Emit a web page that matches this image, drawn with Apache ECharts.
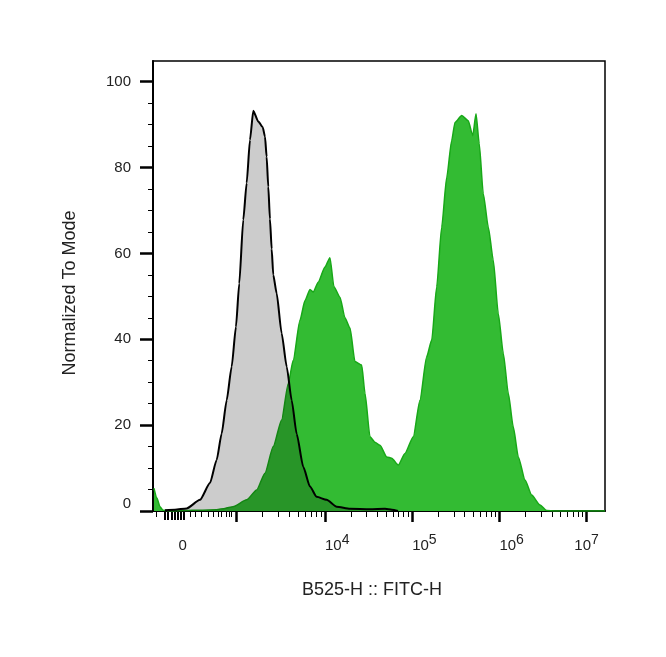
<!DOCTYPE html>
<html>
<head>
<meta charset="utf-8">
<script src="https://cdn.jsdelivr.net/npm/echarts@6/dist/echarts.min.js"></script>
<style>
  html, body { margin: 0; padding: 0; background: #fff; }
  #chart { width: 666px; height: 657px; }
</style>
</head>
<body>
<div id="chart"></div>
<script>
// x values are display positions on the biex/log axis (1 unit = 1 decade, 4 = 10^4)
const grayX = [2.165, 2.280, 2.414, 2.567, 2.681, 2.758, 2.815, 2.873, 2.930, 2.979, 3.017, 3.063, 3.102, 3.140, 3.178, 3.235, 3.286, 3.312, 3.331, 3.350, 3.369, 3.389, 3.407, 3.446, 3.503, 3.561, 3.618, 3.675, 3.751, 3.828, 3.905, 4.019, 4.134, 4.287, 4.516, 4.688, 4.768, 4.837];
const grayY = [0.2, 0.3, 0.6, 2.6, 6.5, 11.9, 18, 25.8, 33.6, 42.9, 53, 67.8, 76.4, 86.4, 93.2, 90.7, 89.4, 87.2, 82.5, 75.5, 68, 61, 55, 50.7, 41.4, 33.6, 25.8, 18, 10.3, 5.7, 3.3, 2.6, 1.0, 0.5, 0.4, 0.5, 0.3, 0];

const greenX = [2.039, 2.073, 2.108, 2.142, 2.222, 2.394, 2.567, 2.758, 2.853, 2.945,
  3.102, 3.217, 3.312, 3.407, 3.503, 3.579, 3.636, 3.713, 3.771, 3.828,
  3.866, 3.923, 4.000, 4.057, 4.103, 4.172, 4.229, 4.287, 4.344, 4.421,
  4.459, 4.516, 4.573, 4.631, 4.708, 4.765, 4.841, 4.917, 5.013, 5.089,
  5.166, 5.224, 5.281, 5.338, 5.396, 5.453, 5.491, 5.568, 5.643, 5.694,
  5.732, 5.769, 5.815, 5.873, 5.930, 5.987, 6.045, 6.102, 6.159, 6.217,
  6.294, 6.370, 6.466, 6.542, 6.638, 7.211];
const greenY = [5.3, 3, 1, 0.2, 0, 0.1, 0.2, 0.3, 0.6, 1.0,
  2.6, 4.9, 8.8, 15, 21.2, 29.7, 35.1, 44.4, 49, 51.6,
  51, 53.3, 56.8, 59, 52.2, 49.8, 45, 42.6, 34.8, 34,
  27.4, 17.3, 16, 15.3, 12.6, 12.3, 10.7, 13.4, 17.3, 25.8,
  35.9, 39.8, 52.2, 66.1, 77.7, 86.3, 90.5, 92.1, 90.9, 87.4,
  92.5, 85.5, 73.9, 66.1, 58.4, 46, 36.7, 27.4, 19.6, 12.6,
  7.2, 3.7, 1.4, 0.1, 0, 0];

// axis ticks and labels
const xMin = 2.028, xMax = 7.211;
const xLabelPos = [2.368, 4, 5, 6, 7];
const xLabelExp = [null, 4, 5, 6, 7];
const xMajor = [2.979, 4, 5, 6, 7];
const xZeroTicks = [2.165, 2.200, 2.245, 2.280, 2.314, 2.349, 2.383];
const xLinTicks = [2.070, 2.452, 2.509, 2.586, 2.658, 2.716, 2.773, 2.815, 2.865, 2.899, 2.930];
const yMajor = [0, 20, 40, 60, 80, 100];
const yMinor = [5, 10, 15, 25, 30, 35, 45, 50, 55, 65, 70, 75, 85, 90, 95];

const decadeStart = [2.979, 4, 5, 6];
const decadeEnd = [4, 5, 6, 7];
const xLogMinor = [];
decadeStart.forEach((s, i) => {
  for (let k = 2; k <= 9; k++) xLogMinor.push(s + (decadeEnd[i] - s) * Math.log10(k));
});
const xMinor = xLinTicks.concat(xLogMinor);

const FONT = 'Liberation Sans, Arial, sans-serif';
const pair = (xs, ys) => xs.map((x, i) => [x, ys[i]]);

let MyEcharts = echarts.init(document.getElementById('chart'));

const tickAxis = (vals, len, w) => ({
  type: 'value', min: xMin, max: xMax, position: 'bottom',
  axisLine: { show: false },
  axisTick: { show: true, customValues: vals, length: len, lineStyle: { color: '#000', width: w } },
  axisLabel: { show: false },
  splitLine: { show: false }
});

let option = {
  animation: false,
  backgroundColor: '#fff',
  grid: {
    left: 153, right: 61, top: 61, bottom: 146,
    show: true, borderColor: '#000', borderWidth: 1.5, backgroundColor: 'transparent'
  },
  xAxis: [
    {
      type: 'value', min: xMin, max: xMax, position: 'bottom',
      name: 'B525-H :: FITC-H',
      nameLocation: 'middle',
      nameGap: 70,
      nameTextStyle: { fontFamily: FONT, fontSize: 18, color: '#222', padding: [0, 14, 0, 0] },
      axisLine: { show: true, lineStyle: { color: '#000', width: 2 } },
      axisTick: { show: true, customValues: xMajor, length: 11, lineStyle: { color: '#000', width: 2.5 } },
      axisLabel: {
        customValues: xLabelPos,
        margin: 22,
        align: 'left',
        alignMinLabel: 'center',
        alignMaxLabel: 'center',
        formatter: function (v) {
          let idx = 0, best = 1e9;
          xLabelPos.forEach((p, i) => { if (Math.abs(p - v) < best) { best = Math.abs(p - v); idx = i; } });
          const e = xLabelExp[idx];
          return e === null ? '{b|0}' : '{b|10}{s|' + e + '}';
        },
        rich: {
          b: { fontFamily: FONT, fontSize: 15, lineHeight: 26, verticalAlign: 'middle', color: '#222' },
          s: { fontFamily: FONT, fontSize: 14, lineHeight: 10, verticalAlign: 'top', color: '#222' }
        }
      },
      splitLine: { show: false }
    },
    tickAxis(xZeroTicks, 9, 2),
    tickAxis(xMinor, 6, 1)
  ],
  yAxis: [
    {
      type: 'value', min: 0, max: 104.8, position: 'left',
      name: 'Normalized To Mode',
      nameLocation: 'middle',
      nameGap: 74,
      nameTextStyle: { fontFamily: FONT, fontSize: 18, color: '#222', padding: [0, 14, 0, 0] },
      axisLine: { show: true, lineStyle: { color: '#000', width: 2 } },
      axisTick: { show: true, customValues: yMajor, length: 13, lineStyle: { color: '#000', width: 2.5 } },
      axisLabel: {
        customValues: yMajor,
        margin: 22,
        verticalAlignMinLabel: 'bottom',
        fontFamily: FONT, fontSize: 15, color: '#222'
      },
      splitLine: { show: false }
    },
    {
      type: 'value', min: 0, max: 104.8, position: 'left',
      axisLine: { show: false },
      axisTick: { show: true, customValues: yMinor, length: 5, lineStyle: { color: '#000', width: 1 } },
      axisLabel: { show: false },
      splitLine: { show: false }
    }
  ],
  series: [
    {
      name: 'stained',
      type: 'line',
      data: pair(greenX, greenY),
      showSymbol: false,
      smooth: 0.2,
      smoothMonotone: 'x',
      lineStyle: { color: '#18a818', width: 1.5 },
      areaStyle: { color: '#33bb33', opacity: 1 },
      z: 2
    },
    {
      name: 'control',
      type: 'line',
      data: pair(grayX, grayY),
      showSymbol: false,
      smooth: 0.2,
      smoothMonotone: 'x',
      lineStyle: { color: '#000', width: 2 },
      areaStyle: { color: 'rgba(0,0,0,0.2)', opacity: 1 },
      z: 3
    }
  ]
};

MyEcharts.setOption(option);
window.addEventListener('resize', () => {
  MyEcharts.resize();
});
</script>
</body>
</html>
